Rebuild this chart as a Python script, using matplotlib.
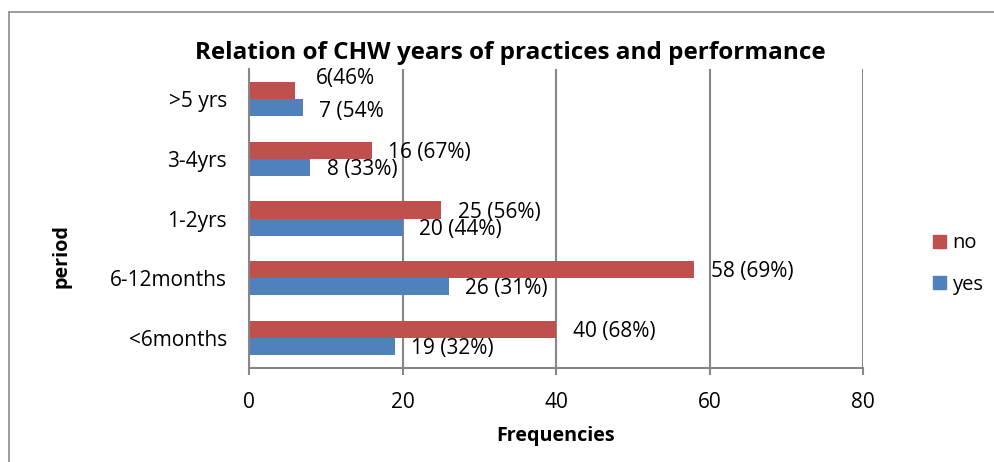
import matplotlib
matplotlib.use("Agg")
import matplotlib.pyplot as plt
from matplotlib.lines import Line2D
from matplotlib.patches import Patch
import numpy as np

categories = ["<6months", "6-12months", "1-2yrs", "3-4yrs", ">5 yrs"]
yes_values = [19, 26, 20, 8, 7]
no_values = [40, 58, 25, 16, 6]
yes_labels = ["19 (32%)", "26 (31%)", "20 (44%)", "8 (33%)", "7 (54%"]
no_labels = ["40 (68%)", "58 (69%)", "25 (56%)", "16 (67%)", "6(46%"]
x_ticks = [0, 20, 40, 60, 80]

plt.rcParams['font.family'] = ['Open Sans', 'DejaVu Sans']

RED = "#C0504D"
BLUE = "#4F81BD"
GRID = "#878787"
FS = 15

fig = plt.figure(figsize=(9.95, 4.62), dpi=100)
ax = fig.add_axes([249/995, 1-368/462, (863-249)/995, (368-69)/462])

y = np.arange(len(categories))
h = 0.285
ax.barh(y - h/2, yes_values, height=h, color=BLUE, label="yes")
ax.barh(y + h/2, no_values, height=h, color=RED, label="no")

ax.set_xlim(0, 80)
ax.set_ylim(-0.5, len(categories) - 0.5)
ax.set_xticks(x_ticks)
ax.set_yticks(y)
ax.set_yticklabels(categories)
ax.xaxis.grid(True, color=GRID, linewidth=1.5)
ax.set_axisbelow(True)
for s in ["top", "right"]:
    ax.spines[s].set_visible(False)
for s in ["left", "bottom"]:
    ax.spines[s].set_color(GRID)
    ax.spines[s].set_linewidth(1.5)
ax.tick_params(axis="x", direction="out", length=5, width=1.5, color=GRID,
               labelsize=FS, pad=12)
ax.tick_params(axis="y", length=0, labelsize=FS, pad=16)

# data labels (offsets in points)
yes_off = [(12, -1.5)] * 4 + [(12, -3)]
no_off = [(12, -1.5)] * 4 + [(15, 8.5)]
for i in range(len(categories)):
    ax.annotate(yes_labels[i], xy=(yes_values[i], y[i] - h/2), xytext=yes_off[i],
                textcoords="offset points", va="center", ha="left", fontsize=FS)
    ax.annotate(no_labels[i], xy=(no_values[i], y[i] + h/2), xytext=no_off[i],
                textcoords="offset points", va="center", ha="left", fontsize=FS)

fig.text(510/995, 1-53/462, "Relation of CHW years of practices and performance",
         ha="center", va="center", fontsize=17.5, fontweight="bold")
fig.text(556/995, 1-436/462, "Frequencies", ha="center", va="center",
         fontsize=14.2, fontweight="bold")
fig.text(62/995, 1-256/462, "period", ha="center", va="center", rotation=90,
         fontsize=14.2, fontweight="bold")

handles = [Patch(color=RED, label="no"), Patch(color=BLUE, label="yes")]
fig.legend(handles=handles, loc="center left", bbox_to_anchor=(917/995, 1-264/462),
           frameon=False, fontsize=14.5, handlelength=0.62, handleheight=0.62,
           handletextpad=0.35, labelspacing=1.05, borderpad=0.3)

# outer chart border
fig.add_artist(Line2D([9/995, 9/995], [0, 1-12/462], color="#8c8c8c", linewidth=1.2,
                      transform=fig.transFigure))
fig.add_artist(Line2D([9/995, 1], [1-12/462, 1-12/462], color="#8c8c8c", linewidth=1.2,
                      transform=fig.transFigure))

fig.savefig("out.png", dpi=100)
